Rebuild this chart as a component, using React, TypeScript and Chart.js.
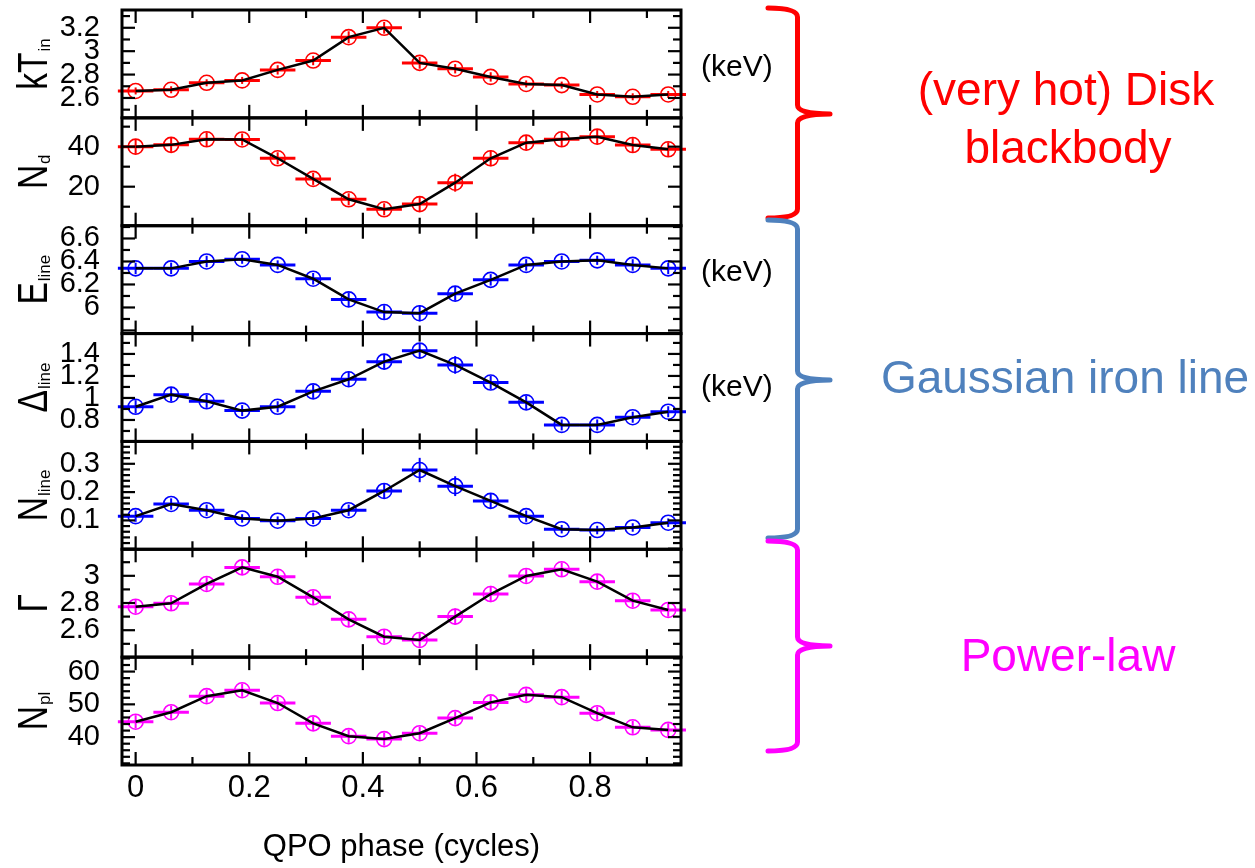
import React, { useEffect, useRef } from "react";
import { Chart, registerables } from "chart.js";

Chart.register(...registerables);

const FONT = '"Liberation Sans", Arial, Helvetica, sans-serif';

// QPO phase bins (cycles)
const PHASE = [0, 0.0625, 0.125, 0.1875, 0.25, 0.3125, 0.375, 0.4375, 0.5, 0.5625, 0.625, 0.6875, 0.75, 0.8125, 0.875, 0.9375];
const PHASE_HALF_BIN = 0.03125;
const X_TICK_LABELS = [0, 0.2, 0.4, 0.6, 0.8];
const X_TICK_MARKS = [0, 0.1, 0.2, 0.3, 0.4, 0.5, 0.6, 0.7, 0.8, 0.9];

// Disk blackbody
const KT_IN = [2.66, 2.67, 2.73, 2.75, 2.84, 2.92, 3.12, 3.2, 2.9, 2.85, 2.78, 2.72, 2.71, 2.63, 2.61, 2.63];
const KT_IN_ERR = [0.03, 0.03, 0.03, 0.03, 0.04, 0.04, 0.05, 0.05, 0.05, 0.04, 0.04, 0.03, 0.03, 0.03, 0.03, 0.03];
const KT_IN_TICKS = [2.6, 2.8, 3, 3.2];

const N_D = [40.0, 40.9, 43.7, 43.6, 34.2, 23.9, 13.7, 8.7, 11.3, 22.0, 34.2, 42.0, 43.7, 45.0, 40.8, 38.7];
const N_D_ERR = [3.5, 3.5, 3.5, 3, 3, 3, 3, 3, 3.5, 4.5, 4, 3.5, 3.5, 3.5, 3.5, 3.5];
const N_D_TICKS = [20, 40];

// Gaussian iron line
const E_LINE = [6.34, 6.34, 6.4, 6.42, 6.37, 6.25, 6.07, 5.96, 5.95, 6.12, 6.24, 6.37, 6.4, 6.41, 6.37, 6.34];
const E_LINE_ERR = [0.05, 0.05, 0.05, 0.04, 0.04, 0.05, 0.06, 0.06, 0.07, 0.06, 0.05, 0.05, 0.05, 0.04, 0.05, 0.05];
const E_LINE_TICKS = [6, 6.2, 6.4, 6.6];

const DELTA_LINE = [0.92, 1.03, 0.97, 0.885, 0.92, 1.06, 1.17, 1.33, 1.43, 1.3, 1.14, 0.96, 0.755, 0.755, 0.825, 0.875];
const DELTA_LINE_ERR = [0.06, 0.06, 0.06, 0.05, 0.05, 0.06, 0.07, 0.07, 0.07, 0.08, 0.06, 0.06, 0.05, 0.05, 0.05, 0.05];
const DELTA_LINE_TICKS = [0.8, 1, 1.2, 1.4];

const N_LINE = [0.115, 0.158, 0.136, 0.107, 0.099, 0.107, 0.136, 0.204, 0.278, 0.221, 0.169, 0.115, 0.069, 0.066, 0.075, 0.092];
const N_LINE_ERR = [0.02, 0.02, 0.02, 0.015, 0.015, 0.02, 0.02, 0.025, 0.043, 0.035, 0.025, 0.02, 0.015, 0.015, 0.015, 0.015];
const N_LINE_TICKS = [0.1, 0.2, 0.3];

// Power-law
const GAMMA = [2.773, 2.798, 2.94, 3.062, 2.993, 2.842, 2.68, 2.552, 2.528, 2.7, 2.866, 2.999, 3.048, 2.957, 2.817, 2.749];
const GAMMA_ERR = [0.05, 0.05, 0.05, 0.05, 0.05, 0.05, 0.05, 0.05, 0.05, 0.06, 0.06, 0.05, 0.05, 0.05, 0.05, 0.05];
const GAMMA_TICKS = [2.6, 2.8, 3];

const N_PL = [44.7, 47.6, 52.5, 54.3, 50.4, 44.2, 40.3, 39.4, 41.2, 45.8, 50.6, 52.9, 52.2, 47.3, 43.0, 42.2];
const N_PL_ERR = [2, 2, 2, 2, 2, 2, 2, 2, 2, 2, 2, 2, 2, 2, 2, 2];
const N_PL_TICKS = [40, 50, 60];

const RED = "#ff0000";
const BLUE = "#0000ff";
const MAGENTA = "#ff00ff";
const STEEL = "#4f81bd";

type Panel = {
  main: string;
  sub: string;
  values: number[];
  errors: number[];
  labels: number[];
  color: string;
  min: number;
  max: number;
  minor: number;
  major: number;
};

const PANELS: Panel[] = [
  { main: "kT", sub: "in", values: KT_IN, errors: KT_IN_ERR, labels: KT_IN_TICKS, color: RED, min: 2.43, max: 3.352, minor: 0.1, major: 0.2 },
  { main: "N", sub: "d", values: N_D, errors: N_D_ERR, labels: N_D_TICKS, color: RED, min: 0.5, max: 54.4, minor: 10, major: 20 },
  { main: "E", sub: "line", values: E_LINE, errors: E_LINE_ERR, labels: E_LINE_TICKS, color: BLUE, min: 5.773, max: 6.711, minor: 0.1, major: 0.2 },
  { main: "\u0394", sub: "line", values: DELTA_LINE, errors: DELTA_LINE_ERR, labels: DELTA_LINE_TICKS, color: BLUE, min: 0.605, max: 1.585, minor: 0.1, major: 0.2 },
  { main: "N", sub: "line", values: N_LINE, errors: N_LINE_ERR, labels: N_LINE_TICKS, color: BLUE, min: -0.002, max: 0.379, minor: 0.02, major: 0.1 },
  { main: "\u0393", sub: "", values: GAMMA, errors: GAMMA_ERR, labels: GAMMA_TICKS, color: MAGENTA, min: 2.402, max: 3.195, minor: 0.1, major: 0.2 },
  { main: "N", sub: "pl", values: N_PL, errors: N_PL_ERR, labels: N_PL_TICKS, color: MAGENTA, min: 31.5, max: 64.4, minor: 2, major: 10 },
];

const fmt = (v: number) => String(Math.round(v * 1000) / 1000);

function isMultiple(v: number, step: number) {
  const q = v / step;
  return Math.abs(q - Math.round(q)) < 1e-6;
}

function line(ctx: CanvasRenderingContext2D, x1: number, y1: number, x2: number, y2: number) {
  ctx.beginPath();
  ctx.moveTo(x1, y1);
  ctx.lineTo(x2, y2);
  ctx.stroke();
}

function drawBrace(ctx: CanvasRenderingContext2D, color: string, yTop: number, yMid: number, yBot: number) {
  const xEnd = 768;
  const xv = 797.5;
  const xTip = 830;
  const r = 9;
  ctx.save();
  ctx.strokeStyle = color;
  ctx.lineWidth = 5;
  ctx.lineCap = "round";
  ctx.lineJoin = "round";
  ctx.beginPath();
  ctx.moveTo(xEnd, yTop);
  ctx.quadraticCurveTo(xv, yTop, xv, yTop + r);
  ctx.lineTo(xv, yMid - r);
  ctx.quadraticCurveTo(xv, yMid, xTip, yMid);
  ctx.quadraticCurveTo(xv, yMid, xv, yMid + r);
  ctx.lineTo(xv, yBot - r);
  ctx.quadraticCurveTo(xv, yBot, xEnd, yBot);
  ctx.stroke();
  ctx.restore();
}

function drawYTitle(ctx: CanvasRenderingContext2D, main: string, sub: string, xBase: number, yCenter: number) {
  const squeeze = 0.78;
  ctx.save();
  ctx.translate(xBase, yCenter);
  ctx.rotate(-Math.PI / 2);
  ctx.fillStyle = "#000";
  ctx.textAlign = "left";
  ctx.textBaseline = "alphabetic";
  ctx.font = `43px ${FONT}`;
  const wMain = ctx.measureText(main).width * squeeze;
  ctx.font = `17px ${FONT}`;
  const wSub = sub ? ctx.measureText(sub).width + 1 : 0;
  const x0 = -(wMain + wSub) / 2;
  ctx.save();
  ctx.translate(x0, 0);
  ctx.scale(squeeze, 1);
  ctx.font = `43px ${FONT}`;
  ctx.fillText(main, 0, 0);
  ctx.restore();
  if (sub) {
    ctx.font = `17px ${FONT}`;
    ctx.fillText(sub, x0 + wMain + 1, 3);
  }
  ctx.restore();
}

const panelPlugin = {
  id: "panelDecor",
  beforeDatasetsDraw(chart: any) {
    const ctx: CanvasRenderingContext2D = chart.ctx;
    const xs = chart.scales.x;
    PANELS.forEach((p, i) => {
      const ys = chart.scales["y" + i];
      ctx.save();
      ctx.strokeStyle = p.color;
      p.values.forEach((v, j) => {
        const px = xs.getPixelForValue(PHASE[j]);
        const py = ys.getPixelForValue(v);
        ctx.lineWidth = 3;
        line(ctx, xs.getPixelForValue(PHASE[j] - PHASE_HALF_BIN), py, xs.getPixelForValue(PHASE[j] + PHASE_HALF_BIN), py);
        ctx.lineWidth = 2;
        line(ctx, px, ys.getPixelForValue(v - p.errors[j]), px, ys.getPixelForValue(v + p.errors[j]));
      });
      ctx.restore();
    });
  },
  afterDatasetsDraw(chart: any) {
    const ctx: CanvasRenderingContext2D = chart.ctx;
    const xs = chart.scales.x;
    const { left, right } = chart.chartArea;
    ctx.save();
    ctx.strokeStyle = "#000";
    PANELS.forEach((p, i) => {
      const ys = chart.scales["y" + i];
      ctx.lineWidth = 2.2;
      X_TICK_MARKS.forEach((v) => {
        const px = xs.getPixelForValue(v);
        const len = isMultiple(v, 0.2) ? 13 : 8;
        line(ctx, px, ys.bottom, px, ys.bottom - len);
        line(ctx, px, ys.top, px, ys.top + len);
      });
      for (let k = Math.ceil(p.min / p.minor - 1e-9); k * p.minor <= p.max + 1e-9; k++) {
        const v = k * p.minor;
        const py = ys.getPixelForValue(v);
        const len = isMultiple(v, p.major) ? 13 : 8;
        line(ctx, left, py, left + len, py);
        line(ctx, right, py, right - len, py);
      }
      ctx.lineWidth = 3;
      ctx.strokeRect(left, ys.top, right - left, ys.bottom - ys.top);
    });
    ctx.restore();
  },
  afterDraw(chart: any) {
    const ctx: CanvasRenderingContext2D = chart.ctx;
    PANELS.forEach((p, i) => {
      const ys = chart.scales["y" + i];
      drawYTitle(ctx, p.main, p.sub, 47, (ys.top + ys.bottom) / 2);
    });

    drawBrace(ctx, RED, 8, 114, 218);
    drawBrace(ctx, STEEL, 220, 380, 538);
    drawBrace(ctx, MAGENTA, 541, 646, 751);

    ctx.save();
    ctx.textBaseline = "alphabetic";
    ctx.fillStyle = "#000";
    ctx.textAlign = "left";
    ctx.font = `30px ${FONT}`;
    ctx.fillText("(keV)", 701, 76);
    ctx.fillText("(keV)", 701, 281);
    ctx.fillText("(keV)", 701, 396);

    ctx.textAlign = "center";
    ctx.font = `46px ${FONT}`;
    ctx.fillStyle = RED;
    ctx.fillText("(very hot) Disk", 1066, 105);
    ctx.fillText("blackbody", 1068, 163);
    ctx.fillStyle = STEEL;
    ctx.fillText("Gaussian iron line", 1065, 393);
    ctx.fillStyle = MAGENTA;
    ctx.fillText("Power-law", 1068, 671);
    ctx.restore();
  },
};

export default function App() {
  const canvasRef = useRef<HTMLCanvasElement | null>(null);

  useEffect(() => {
    const canvas = canvasRef.current;
    if (!canvas) return;

    const datasets: any[] = [];
    const scales: any = {
      x: {
        type: "linear",
        position: "bottom",
        min: -0.024,
        max: 0.96,
        afterBuildTicks: (s: any) => {
          s.ticks = X_TICK_LABELS.map((v) => ({ value: v }));
        },
        afterFit: (s: any) => {
          s.height = 103;
          s.paddingLeft = 0;
          s.paddingRight = 0;
        },
        grid: { display: false, drawTicks: false },
        border: { display: false },
        ticks: {
          color: "#000",
          font: { family: FONT, size: 31 },
          padding: 5,
          maxRotation: 0,
          minRotation: 0,
          autoSkip: false,
          callback: (v: number) => fmt(v),
        },
        title: {
          display: true,
          text: "QPO phase (cycles)",
          color: "#000",
          font: { family: FONT, size: 31 },
          padding: { top: 0, bottom: 2 },
        },
      },
    };

    PANELS.forEach((p, i) => {
      const pts = PHASE.map((x, j) => ({ x, y: p.values[j] }));
      datasets.push({
        type: "line",
        data: pts,
        xAxisID: "x",
        yAxisID: "y" + i,
        borderColor: "#000",
        borderWidth: 2.5,
        pointRadius: 0,
        tension: 0,
        fill: false,
        order: 0,
        clip: false,
      });
      datasets.push({
        type: "line",
        data: pts,
        xAxisID: "x",
        yAxisID: "y" + i,
        showLine: false,
        pointStyle: "circle",
        pointRadius: 7.5,
        pointBorderWidth: 1.6,
        pointBorderColor: p.color,
        pointBackgroundColor: "rgba(0,0,0,0)",
        borderColor: p.color,
        order: 1,
        clip: false,
      });
      scales["y" + i] = {
        type: "linear",
        position: "left",
        stack: "panels",
        stackWeight: 1,
        weight: PANELS.length - i,
        min: p.min,
        max: p.max,
        afterBuildTicks: (s: any) => {
          s.ticks = p.labels.map((v) => ({ value: v }));
        },
        afterFit: (s: any) => {
          s.width = 122;
          s.paddingTop = 0;
          s.paddingBottom = 0;
        },
        grid: { display: false, drawTicks: false },
        border: { display: false },
        ticks: {
          color: "#000",
          font: { family: FONT, size: 29 },
          padding: 22,
          autoSkip: false,
          callback: (v: number) => fmt(v),
        },
      };
    });

    const chart = new Chart(canvas, {
      type: "line",
      data: { datasets },
      options: {
        animation: false,
        responsive: false,
        devicePixelRatio: 1,
        events: [],
        layout: { padding: { top: 10, left: 0, right: 574, bottom: 0 } },
        plugins: { legend: { display: false }, tooltip: { enabled: false } },
        scales,
      },
      plugins: [panelPlugin],
    } as any);

    return () => chart.destroy();
  }, []);

  return (
    <div style={{ position: "absolute", left: 0, top: 0, width: 1255, height: 868, background: "#fff" }}>
      <canvas ref={canvasRef} width={1255} height={868} style={{ display: "block" }} />
    </div>
  );
}
